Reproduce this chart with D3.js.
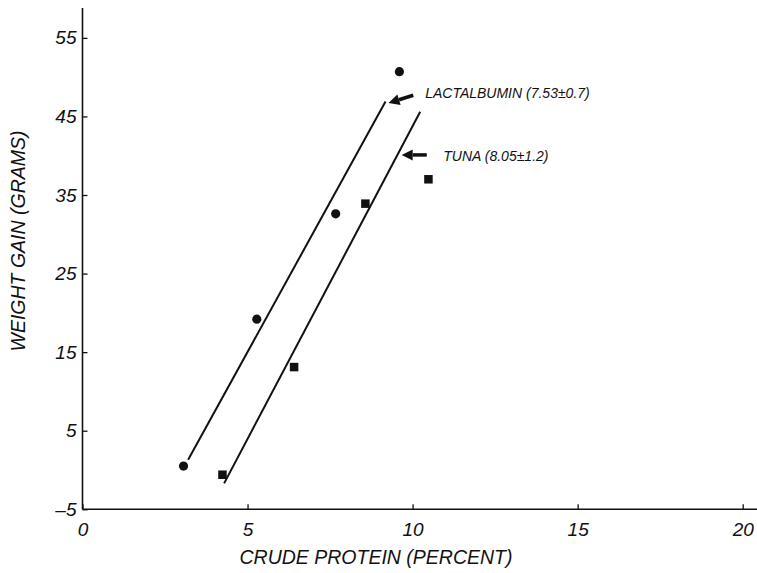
<!DOCTYPE html>
<html>
<head>
<meta charset="utf-8">
<script src="https://cdn.jsdelivr.net/npm/d3@7"></script>
<style>
  body { margin: 0; background: #fff; }
  svg text { font-family: "Liberation Sans", "DejaVu Sans", sans-serif; fill: #111; }
</style>
</head>
<body>
<div class="chart"></div>
<script>
// ---------- data ----------
var lactX = [3.06, 5.28, 7.67, 9.6];
var lactY = [0.5, 19.2, 32.6, 50.7];
var tunaX = [4.24, 6.41, 8.57, 10.48];
var tunaY = [-0.6, 13.1, 33.9, 37.0];

// fitted lines, endpoints in data units
var lactLineX = [3.2, 9.18];
var lactLineY = [1.3, 46.9];
var tunaLineX = [4.29, 10.23];
var tunaLineY = [-1.7, 45.6];

var xTicks = [0, 5, 10, 15, 20];
var yTicks = [-5, 5, 15, 25, 35, 45, 55];

var labels = ["LACTALBUMIN (7.53\u00b10.7)", "TUNA (8.05\u00b11.2)"];
// arrow tip, arrow tail, label start (data units)
var arrowTipX = [9.27, 9.67];
var arrowTipY = [46.7, 40.1];
var arrowTailX = [10.02, 10.43];
var arrowTailY = [47.7, 40.1];
var labelX = [10.38, 10.93];
var labelY = [47.4, 39.3];

// ---------- svg setup ----------
var svgWidth = 757;
var svgHeight = 573;

var svg = d3.select(".chart")
    .append("svg")
    .attr("width", svgWidth)
    .attr("height", svgHeight);

var xScale = d3.scaleLinear().domain([0, 20]).range([82.5, 742.7]);
var yScale = d3.scaleLinear().domain([-5, 58.8]).range([509.3, 8]);

// ---------- axes ----------
var bottomAxis = d3.axisBottom(xScale)
    .tickValues(xTicks)
    .tickSize(-5)
    .tickPadding(13)
    .tickFormat(d3.format("d"));

var leftAxis = d3.axisLeft(yScale)
    .tickValues(yTicks)
    .tickSize(-5)
    .tickPadding(6)
    .tickFormat(d => d < 0 ? "\u2013" + Math.abs(d) : d);

var xAxis = svg.append("g")
    .attr("transform", `translate(0, ${yScale(-5)})`)
    .call(bottomAxis);

var yAxis = svg.append("g")
    .attr("transform", `translate(${xScale(0)}, 0)`)
    .call(leftAxis);

[xAxis, yAxis].forEach(function (ax) {
    ax.select(".domain").remove();
    ax.selectAll(".tick line").attr("stroke", "#111").attr("stroke-width", 1.3);
    ax.selectAll("text")
        .style("font-size", "19px")
        .style("font-style", "italic")
        .attr("fill", "#111");
});

// axis lines (x axis runs on past 20 to the edge)
svg.append("line")
    .attr("x1", xScale(0)).attr("x2", svgWidth)
    .attr("y1", yScale(-5)).attr("y2", yScale(-5))
    .attr("stroke", "#111").attr("stroke-width", 1.6);

svg.append("line")
    .attr("x1", xScale(0)).attr("x2", xScale(0))
    .attr("y1", yScale(-5)).attr("y2", yScale(58.8))
    .attr("stroke", "#111").attr("stroke-width", 1.6);

// axis titles
svg.append("text")
    .attr("x", (237 + 515) / 2)
    .attr("y", 564)
    .attr("text-anchor", "middle")
    .style("font-size", "19.5px")
    .style("font-style", "italic")
    .text("CRUDE PROTEIN (PERCENT)");

svg.append("text")
    .attr("transform", `translate(25, 241) rotate(-90)`)
    .attr("text-anchor", "middle")
    .style("font-size", "19.5px")
    .style("font-style", "italic")
    .text("WEIGHT GAIN (GRAMS)");

// ---------- fitted lines ----------
var line = d3.line()
    .x(d => xScale(d[0]))
    .y(d => yScale(d[1]));

[[lactLineX, lactLineY], [tunaLineX, tunaLineY]].forEach(function (s) {
    svg.append("path")
        .datum(d3.zip(s[0], s[1]))
        .attr("d", line)
        .attr("fill", "none")
        .attr("stroke", "#111")
        .attr("stroke-width", 2);
});

// ---------- points ----------
svg.selectAll(".lact")
    .data(d3.zip(lactX, lactY))
    .enter()
    .append("circle")
    .attr("class", "lact")
    .attr("cx", d => xScale(d[0]))
    .attr("cy", d => yScale(d[1]))
    .attr("r", 4.6)
    .attr("fill", "#111");

var sq = 8.5;
svg.selectAll(".tuna")
    .data(d3.zip(tunaX, tunaY))
    .enter()
    .append("rect")
    .attr("class", "tuna")
    .attr("x", d => xScale(d[0]) - sq / 2)
    .attr("y", d => yScale(d[1]) - sq / 2)
    .attr("width", sq)
    .attr("height", sq)
    .attr("fill", "#111");

// ---------- arrows + labels ----------
labels.forEach(function (lab, i) {
    var tx = xScale(arrowTipX[i]), ty = yScale(arrowTipY[i]);
    var ex = xScale(arrowTailX[i]), ey = yScale(arrowTailY[i]);
    var ang = Math.atan2(ey - ty, ex - tx);
    var headLen = 11, headW = 5.5;
    var bx = tx + Math.cos(ang) * headLen, by = ty + Math.sin(ang) * headLen;
    var nx = -Math.sin(ang), ny = Math.cos(ang);

    svg.append("line")
        .attr("x1", bx).attr("y1", by)
        .attr("x2", ex).attr("y2", ey)
        .attr("stroke", "#111")
        .attr("stroke-width", 3.5);

    svg.append("path")
        .attr("d", `M${tx},${ty} L${bx + nx * headW},${by + ny * headW} L${bx - nx * headW},${by - ny * headW} Z`)
        .attr("fill", "#111");

    svg.append("text")
        .attr("x", xScale(labelX[i]))
        .attr("y", yScale(labelY[i]))
        .style("font-size", "14px")
        .style("font-style", "italic")
        .text(lab);
});
</script>
</body>
</html>
